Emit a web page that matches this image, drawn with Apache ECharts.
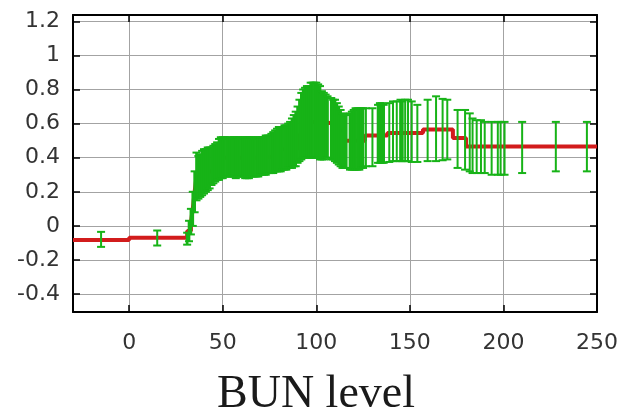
<!DOCTYPE html>
<html>
<head>
<meta charset="utf-8">
<script src="https://cdn.jsdelivr.net/npm/echarts@6/dist/echarts.min.js"></script>
<style>
  html, body { margin: 0; padding: 0; background: #fff; }
  #chart { width: 626px; height: 413px; }
</style>
</head>
<body>
<div id="chart"></div>
<script>
// Axis tick positions
const xTicks = [0, 50, 100, 150, 200, 250];
const yTicks = [-0.4, -0.2, 0, 0.2, 0.4, 0.6, 0.8, 1, 1.2];

// Error bars: BUN level, lower and upper bound of the estimate
const barX = [
  -15, 15,
  31, 32, 33, 34, 35, 36, 37, 38, 39, 40, 41, 42, 43, 44, 45, 46, 47, 48, 49,
  50, 51, 52, 53, 54, 55, 56, 57, 58, 59, 60, 61, 62, 63, 64, 65, 66, 67, 68, 69,
  70, 71, 72, 73, 74, 75, 76, 77, 78, 79, 80, 81, 82, 83, 84, 85, 86, 87, 88, 89,
  90, 91, 92, 93, 94, 95, 96, 97, 98, 99, 100, 101, 102, 103, 104, 105, 106,
  108, 109, 110, 111, 112, 113, 114, 115, 116,
  118, 119, 120, 121, 122, 123, 124, 125,
  126.5, 130, 133, 134, 135, 136, 139, 141, 143, 145, 146, 147.5, 149, 151, 154,
  159.5, 164, 167.5, 170, 175.5, 179.5, 182, 183.5, 185.7, 188, 190, 193.7, 197,
  198.5, 200.6, 210, 228, 244.6
];
const barLow = [
  -0.123, -0.115,
  -0.11, -0.09, -0.05, 0.00, 0.08, 0.15, 0.16, 0.17, 0.18, 0.19, 0.20, 0.21, 0.22, 0.24, 0.25, 0.26, 0.27, 0.27, 0.28,
  0.28, 0.29, 0.29, 0.29, 0.29, 0.29, 0.29, 0.28, 0.29, 0.29, 0.29, 0.29, 0.28, 0.28, 0.28, 0.29, 0.29, 0.29, 0.29, 0.29,
  0.30, 0.30, 0.30, 0.30, 0.31, 0.31, 0.31, 0.31, 0.32, 0.32, 0.32, 0.32, 0.33, 0.33, 0.33, 0.34, 0.34, 0.34, 0.35, 0.35,
  0.37, 0.38, 0.39, 0.40, 0.40, 0.40, 0.40, 0.40, 0.40, 0.40, 0.40, 0.40, 0.39, 0.39, 0.39, 0.40, 0.40,
  0.39, 0.39, 0.38, 0.37, 0.36, 0.35, 0.34, 0.34, 0.34,
  0.33, 0.33, 0.33, 0.33, 0.33, 0.33, 0.34, 0.34,
  0.35, 0.35, 0.37, 0.37, 0.37, 0.37, 0.375, 0.38, 0.38, 0.38, 0.38, 0.38, 0.38, 0.375, 0.375,
  0.38, 0.38, 0.385, 0.39, 0.34, 0.33, 0.32, 0.31, 0.31, 0.31, 0.31, 0.30, 0.30,
  0.30, 0.30, 0.31, 0.32, 0.32
];
const barHigh = [
  -0.035, -0.027,
  -0.04, 0.03, 0.10, 0.20, 0.32, 0.43, 0.41, 0.42, 0.44, 0.45, 0.45, 0.46, 0.46, 0.46, 0.47, 0.48, 0.49, 0.51, 0.52,
  0.52, 0.52, 0.51, 0.52, 0.52, 0.51, 0.52, 0.52, 0.52, 0.52, 0.51, 0.52, 0.52, 0.52, 0.52, 0.52, 0.52, 0.51, 0.52, 0.52,
  0.52, 0.52, 0.52, 0.53, 0.53, 0.53, 0.54, 0.55, 0.56, 0.57, 0.58, 0.58, 0.58, 0.59, 0.59, 0.60, 0.61, 0.63, 0.65, 0.67,
  0.70, 0.74, 0.78, 0.80, 0.81, 0.82, 0.82, 0.84, 0.84, 0.84, 0.84, 0.83, 0.82, 0.79, 0.78, 0.77, 0.76,
  0.75, 0.74, 0.74, 0.72, 0.70, 0.68, 0.66, 0.65, 0.65,
  0.66, 0.67, 0.68, 0.69, 0.69, 0.69, 0.69, 0.69,
  0.69, 0.69, 0.71, 0.72, 0.72, 0.71, 0.72, 0.73, 0.73, 0.74, 0.73, 0.74, 0.74, 0.73, 0.71,
  0.74, 0.76, 0.745, 0.74, 0.68, 0.68, 0.66, 0.63, 0.62, 0.62, 0.61, 0.61, 0.61,
  0.61, 0.61, 0.61, 0.61, 0.61
];

// Mean curve: each value holds from its BUN level up to the next one
const meanX = [-30, 0, 31, 33, 34, 35, 36, 40, 45, 50, 72, 80, 90, 95, 102, 110, 115, 126, 138, 157, 173, 180, 250];
const meanY = [-0.082, -0.07, -0.03, 0.02, 0.10, 0.20, 0.29, 0.32, 0.36, 0.40, 0.41, 0.45, 0.53, 0.61, 0.60, 0.56, 0.50, 0.53, 0.545, 0.565, 0.515, 0.465, 0.465];

const GREEN = '#17b317';
const RED = '#d21c1c';
const labelFont = { fontFamily: 'DejaVu Sans', fontSize: 22, color: '#333' };

const bars = barX.map((x, i) => [x, barLow[i], barHigh[i]]);
const meanLine = meanX.map((x, i) => [x, meanY[i]]);

const chart = echarts.init(document.getElementById('chart'), null, { renderer: 'canvas' });

const frameLine = { show: true, onZero: false, lineStyle: { color: '#000', width: 2 } };
const innerTick = (vals) => ({ show: true, inside: true, length: 7, customValues: vals, lineStyle: { color: '#000', width: 1.5 } });

chart.setOption({
  animation: false,
  backgroundColor: '#fff',
  grid: { left: 73, right: 29, top: 15, bottom: 101, containLabel: false },
  xAxis: [
    {
      type: 'value', position: 'bottom', min: -30, max: 250,
      axisLine: frameLine,
      axisTick: innerTick(xTicks),
      axisLabel: Object.assign({ show: true, margin: 20, customValues: xTicks, formatter: v => String(v) }, labelFont),
      splitLine: { show: true, lineStyle: { color: '#a3a3a3', width: 1 } }
    },
    {
      type: 'value', position: 'top', min: -30, max: 250,
      axisLine: frameLine,
      axisTick: innerTick(xTicks),
      axisLabel: { show: false },
      splitLine: { show: false }
    }
  ],
  yAxis: [
    {
      type: 'value', position: 'left', min: -0.505, max: 1.237,
      axisLine: frameLine,
      axisTick: innerTick(yTicks),
      axisLabel: Object.assign({ show: true, margin: 13, customValues: yTicks, formatter: v => String(Math.round(v * 10) / 10) }, labelFont),
      splitLine: { show: true, lineStyle: { color: '#a3a3a3', width: 1 } }
    },
    {
      type: 'value', position: 'right', min: -0.505, max: 1.237,
      axisLine: frameLine,
      axisTick: innerTick(yTicks),
      axisLabel: { show: false },
      splitLine: { show: false }
    }
  ],
  series: [
    {
      type: 'line',
      data: meanLine,
      step: 'end',
      showSymbol: false,
      lineStyle: { color: RED, width: 4 },
      z: 2
    },
    {
      type: 'custom',
      data: bars,
      encode: { x: 0, y: [1, 2] },
      z: 3,
      renderItem: function (params, api) {
        const i = params.dataIndex;
        const x = api.value(0);
        const pLo = api.coord([x, api.value(1)]);
        const pHi = api.coord([x, api.value(2)]);
        // Closely packed bars are widened so neighbours merge into one band
        let gap = Infinity;
        if (i > 0) gap = Math.min(gap, pLo[0] - api.coord([barX[i - 1], 0])[0]);
        if (i < barX.length - 1) gap = Math.min(gap, api.coord([barX[i + 1], 0])[0] - pLo[0]);
        const w = gap < 2.5 ? gap + 0.8 : 2;
        const hw = 4;
        const st = { stroke: GREEN, lineWidth: 2 };
        return {
          type: 'group',
          children: [
            { type: 'line', shape: { x1: pLo[0], y1: pLo[1], x2: pHi[0], y2: pHi[1] }, style: { stroke: GREEN, lineWidth: w } },
            { type: 'line', shape: { x1: pLo[0] - hw, y1: pLo[1], x2: pLo[0] + hw, y2: pLo[1] }, style: st },
            { type: 'line', shape: { x1: pHi[0] - hw, y1: pHi[1], x2: pHi[0] + hw, y2: pHi[1] }, style: st }
          ]
        };
      }
    }
  ],
  graphic: [
    {
      type: 'text',
      x: 316, y: 395,
      style: {
        text: 'BUN level',
        font: '46px "Liberation Serif"',
        fill: '#1a1a1a',
        align: 'center',
        verticalAlign: 'middle'
      }
    }
  ]
});
</script>
</body>
</html>
